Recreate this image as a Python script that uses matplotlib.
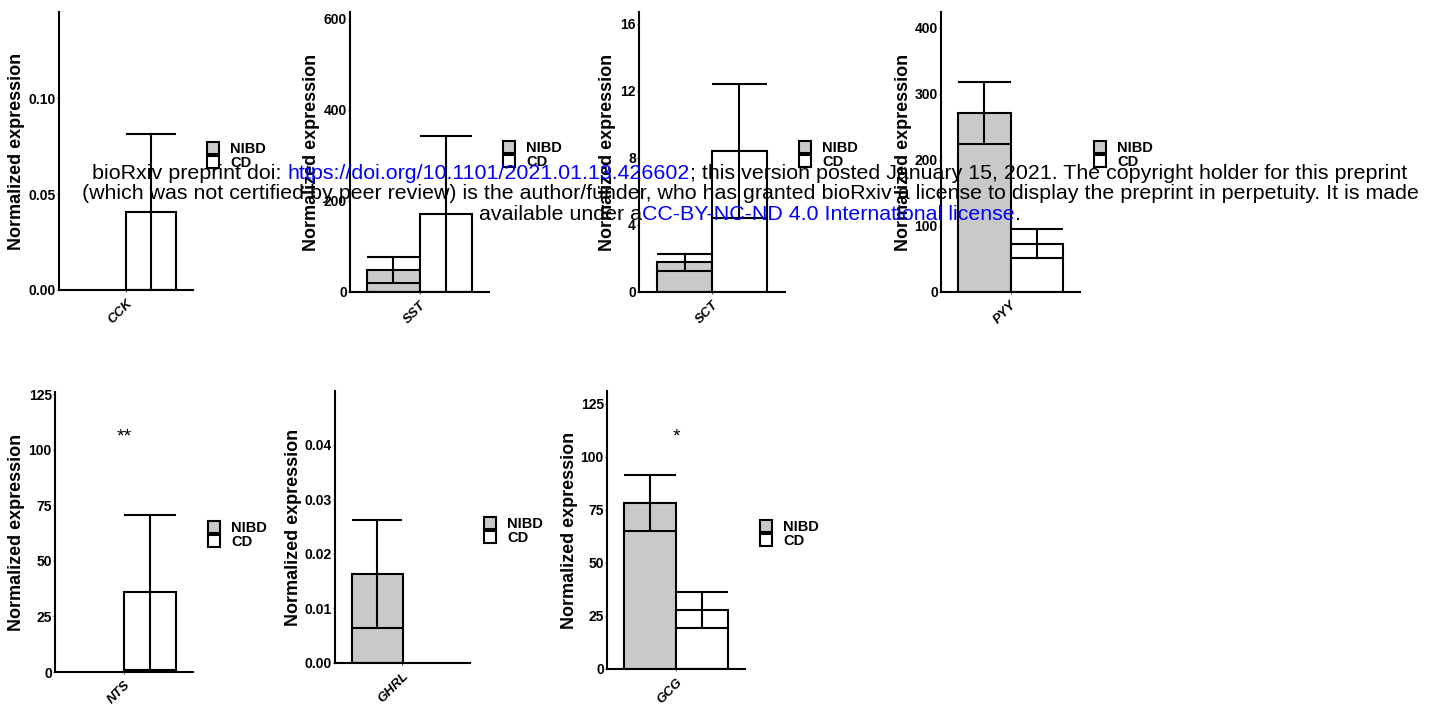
import matplotlib
matplotlib.use('Agg')
import matplotlib.pyplot as plt
from matplotlib.patches import Patch
from matplotlib.font_manager import FontProperties
from matplotlib.transforms import ScaledTranslation

plt.rcParams['font.family'] = ['Liberation Sans', 'DejaVu Sans']

# ---------------- data ----------------
genes = ['CCK', 'SST', 'SCT', 'PYY', 'NTS', 'GHRL', 'GCG']
groups = ['NIBD', 'CD']
nibd_mean = [0.0, 48, 1.77, 271, 0.0, 0.0164, 78.3]
nibd_sd = [0.0, 28, 0.52, 47, 0.0, 0.0099, 13.2]
cd_mean = [0.0406, 171, 8.42, 73, 35.8, 0.0, 27.8]
cd_sd = [0.0406, 172, 4.0, 22, 35.0, 0.0, 8.5]
y_max = [0.145, 615, 16.7, 424, 126, 0.0499, 131]
y_ticks = [[0, 0.05, 0.10], [0, 200, 400, 600], [0, 4, 8, 12, 16],
           [0, 100, 200, 300, 400], [0, 25, 50, 75, 100, 125],
           [0, 0.01, 0.02, 0.03, 0.04], [0, 25, 50, 75, 100, 125]]
y_ticklabels = [['0.00', '0.05', '0.10'], ['0', '200', '400', '600'],
                ['0', '4', '8', '12', '16'], ['0', '100', '200', '300', '400'],
                ['0', '25', '50', '75', '100', '125'],
                ['0.00', '0.01', '0.02', '0.03', '0.04'],
                ['0', '25', '50', '75', '100', '125']]
sig_labels = ['', '', '', '', '**', '', '*']
sig_y = [None, None, None, None, 103.8, None, 107.4]
ylabel = 'Normalized expression'

watermark = [
    [('bioRxiv preprint doi: ', 'black'),
     ('https://doi.org/10.1101/2021.01.13.426602', 'blue'),
     ('; this version posted January 15, 2021. The copyright holder for this preprint', 'black')],
    [('(which was not certified by peer review) is the author/funder, who has granted bioRxiv a license to display the preprint in perpetuity. It is made', 'black')],
    [('available under a', 'black'), ('CC-BY-NC-ND 4.0 International license', 'blue'), ('.', 'black')],
]

# ---------------- layout (pixels) ----------------
W, H = 1435, 705
fill_colors = ['#C9C9C9', 'white']
boxes = [(59, 193, 290, 12), (350, 489, 292, 12), (639, 785, 292, 12), (941, 1080, 292, 12),
         (55, 193, 672, 392), (335, 470, 663, 391), (607, 745, 669, 391)]
ylab_x = [17, 312, 608, 903, 17, 294, 569]
leg_pos = [(207, 156), (503, 155), (799, 155), (1094, 155), (208, 535), (484, 531), (760, 534)]
wm_center = 750
wm_baselines = [179, 199, 220]
wm_size = 15.4

fig = plt.figure(figsize=(W / 100, H / 100), dpi=100)
lw = 1.5
bar_w = 0.45

for i, g in enumerate(genes):
    xl, xr, yb, yt = boxes[i]
    ax = fig.add_axes([xl / W, 1 - yb / H, (xr - xl) / W, (yb - yt) / H])
    means = [nibd_mean[i], cd_mean[i]]
    sds = [nibd_sd[i], cd_sd[i]]
    xs = [1 - bar_w / 2, 1 + bar_w / 2]
    for k in range(2):
        if means[k] > 0:
            ax.bar(xs[k], means[k], width=bar_w, color=fill_colors[k],
                   edgecolor='black', linewidth=lw, zorder=2)
            lo, hi = means[k] - sds[k], means[k] + sds[k]
            ax.vlines(xs[k], lo, hi, color='black', linewidth=lw, zorder=3)
            ax.hlines([lo, hi], xs[k] - bar_w / 2, xs[k] + bar_w / 2,
                      color='black', linewidth=lw, zorder=3)
    if sig_labels[i]:
        ax.text(1.0, sig_y[i], sig_labels[i], ha='center', va='baseline',
                fontsize=14, color='black')
    ax.set_xlim(0.4, 1.6)
    ax.set_ylim(0, y_max[i])
    ax.set_yticks(y_ticks[i])
    ax.set_yticklabels(y_ticklabels[i], fontsize=10, fontweight='bold')
    ax.set_xticks([1.0])
    ax.set_xticklabels([g], fontsize=9.5, fontweight='bold', fontstyle='italic',
                       rotation=45, ha='right', va='top', rotation_mode='anchor')
    for lab in ax.get_xticklabels():
        lab.set_transform(lab.get_transform() + ScaledTranslation(6 / 100, 0, fig.dpi_scale_trans))
    ax.tick_params(axis='y', length=1.5, width=0.8, pad=0.8, color='#555555')
    ax.tick_params(axis='x', length=1.5, width=0.8, pad=3.5, color='#555555')
    for s in ['top', 'right']:
        ax.spines[s].set_visible(False)
    for s in ['left', 'bottom']:
        ax.spines[s].set_linewidth(lw)
    ax.set_ylabel(ylabel, fontsize=13, fontweight='bold')
    ax.yaxis.label.set_va('center')
    ax.yaxis.set_label_coords((ylab_x[i] - xl) / (xr - xl), 0.5)
    ax.set_facecolor('none')
    handles = [Patch(facecolor=fill_colors[k], edgecolor='black', linewidth=lw) for k in range(2)]
    lx, ly = leg_pos[i]
    ax.legend(handles, groups, loc='center left', bbox_to_anchor=(lx / W, 1 - ly / H),
              bbox_transform=fig.transFigure, frameon=False,
              prop=FontProperties(family='Liberation Sans', weight='bold', size=10.5),
              handlelength=0.8, handleheight=0.9, handletextpad=0.8,
              labelspacing=0.0, borderpad=0, borderaxespad=0)

# ---------------- watermark ----------------
renderer = fig.canvas.get_renderer()
fp = FontProperties(family='Liberation Sans', size=wm_size)


def text_w(s):
    w, h, d = renderer.get_text_width_height_descent(s, fp, ismath=False)
    return w


for line, base in zip(watermark, wm_baselines):
    full = ''.join(p for p, c in line)
    total = text_w(full)
    x0 = wm_center - total / 2
    prefix = ''
    for piece, col in line:
        if prefix:
            off = text_w(prefix + piece[0]) - text_w(piece[0])
        else:
            off = 0
        fig.text((x0 + off) / W, 1 - base / H, piece, color=col, fontproperties=fp,
                 ha='left', va='baseline', zorder=10)
        prefix += piece

fig.savefig('out.png', dpi=100)
